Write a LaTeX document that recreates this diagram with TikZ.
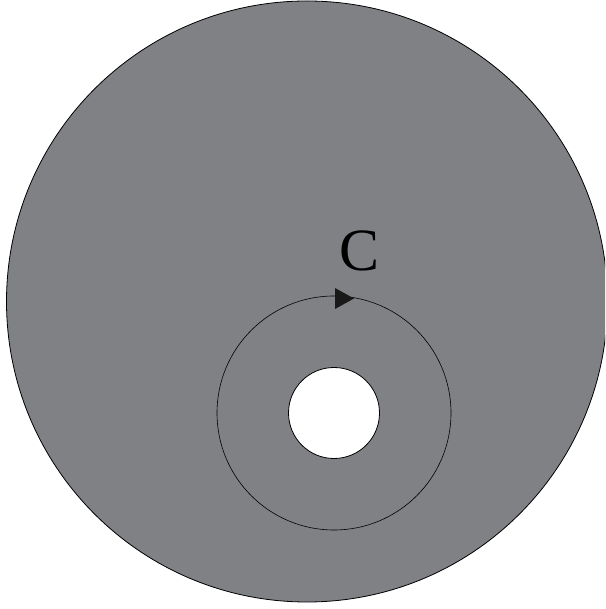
\documentclass[tikz,border=0pt]{standalone}
\usepackage{fontspec}
\setmainfont{Liberation Serif}
\definecolor{plategray}{RGB}{128,129,133}

\begin{document}
\begin{tikzpicture}[x=1pt,y=1pt]
\useasboundingbox (0,0) rectangle (605,609);
\clip (0,0) rectangle (605,609);
\coordinate (O) at (307,307.5); \coordinate (P) at (334,196);
\coordinate (T1) at (335,321); \coordinate (T2) at (335,300); \coordinate (T3) at (354,310.5);
\draw[line width=0.8pt,fill=plategray] (O) circle (300.5);
\draw[line width=0.8pt,fill=white] (P) circle (45.5);
\draw[line width=0.6pt] (P) circle (117);
\fill[black!90] (T1)--(T2)--(T3)--cycle;
\node (lblC) at (360,358) {\rmfamily\fontsize{60}{60}\selectfont C};
\end{tikzpicture}
\end{document}
